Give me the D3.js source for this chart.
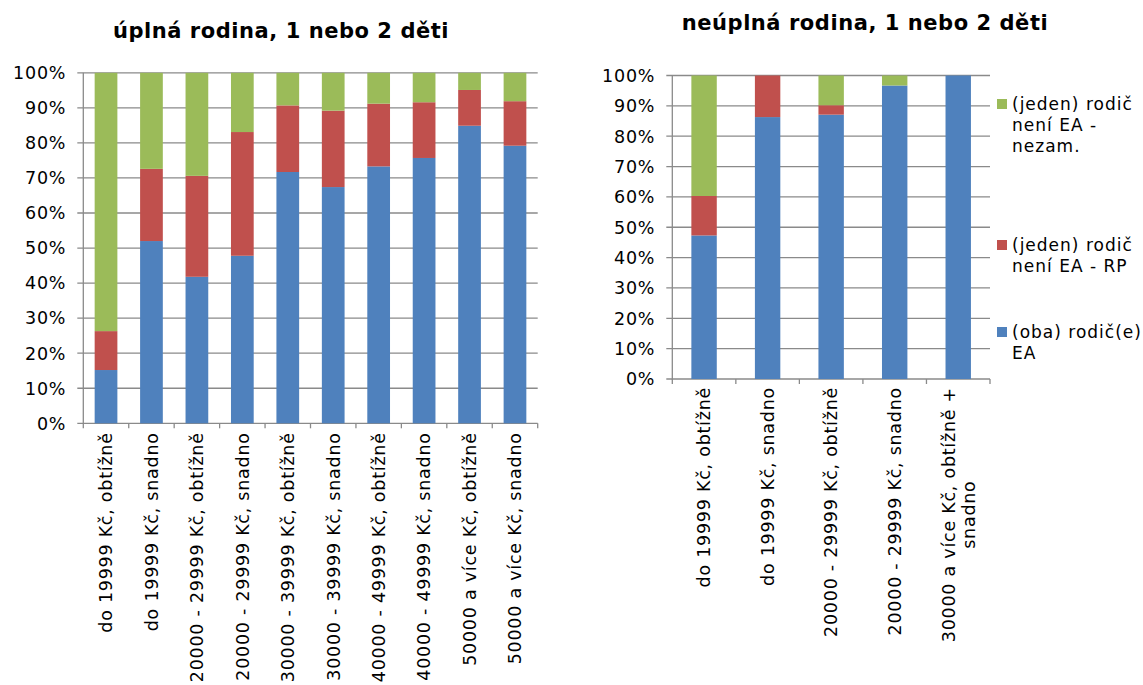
<!DOCTYPE html>
<html>
<head>
<meta charset="utf-8">
<script src="https://cdn.jsdelivr.net/npm/d3@7"></script>
<style>
  body { margin: 0; background: #fff; }
  text { font-family: "DejaVu Sans", Verdana, sans-serif; fill: #000; }
</style>
</head>
<body>
<div id="chart"></div>
<script>
// categories
const leftCats = [
  "do 19999 Kč, obtížně", "do 19999 Kč, snadno",
  "20000 - 29999 Kč, obtížně", "20000 - 29999 Kč, snadno",
  "30000 - 39999 Kč, obtížně", "30000 - 39999 Kč, snadno",
  "40000 - 49999 Kč, obtížně", "40000 - 49999 Kč, snadno",
  "50000 a více Kč, obtížně", "50000 a více Kč, snadno"
];
const rightCats = [
  ["do 19999 Kč, obtížně"], ["do 19999 Kč, snadno"],
  ["20000 - 29999 Kč, obtížně"], ["20000 - 29999 Kč, snadno"],
  ["30000 a více Kč, obtížně +", "snadno"]
];

// series values (%)
const leftEA    = [15.2, 52.0, 41.8, 47.8, 71.7, 67.4, 73.3, 75.7, 84.9, 79.2];
const leftRP    = [11.1, 20.6, 28.8, 35.3, 19.0, 21.8, 17.9, 15.9, 10.2, 12.7];
const leftNezam = [73.7, 27.4, 29.4, 16.9, 9.3, 10.8, 8.8, 8.4, 4.9, 8.1];

const rightEA    = [47.3, 86.3, 87.1, 96.7, 100];
const rightRP    = [13.0, 13.7, 3.1, 0, 0];
const rightNezam = [39.7, 0, 9.8, 3.3, 0];

const seriesKeys = ["ea", "rp", "nezam"];
const seriesColors = { ea: "#4F81BD", rp: "#C0504D", nezam: "#9BBB59" };
const legendLabels = [
  { key: "nezam", lines: ["(jeden) rodič", "není EA -", "nezam."] },
  { key: "rp", lines: ["(jeden) rodič", "není EA - RP"] },
  { key: "ea", lines: ["(oba) rodič(e)", "EA"] }
];
const yTicks = [0, 10, 20, 30, 40, 50, 60, 70, 80, 90, 100];

const svg = d3.select("#chart").append("svg")
  .attr("width", 1143).attr("height", 685);

function drawPanel(opts) {
  const { cats, ea, rp, nezam, left, right, top, bottom, pad, title, titleX, titleY, labelGap } = opts;
  const rows = cats.map((c, i) => ({ cat: i, ea: ea[i], rp: rp[i], nezam: nezam[i] }));
  const stacked = d3.stack().keys(seriesKeys)(rows);

  const x = d3.scaleBand().domain(d3.range(cats.length)).range([left, right]).paddingInner(pad).paddingOuter(pad / 2);
  const xb = d3.scaleBand().domain(d3.range(cats.length)).range([left, right]);
  const y = d3.scaleLinear().domain([0, 100]).range([bottom, top]);

  const g = svg.append("g");

  // gridlines (with small outward ticks)
  g.selectAll("line.grid").data(yTicks).enter().append("line")
    .attr("x1", left - 6).attr("x2", right)
    .attr("y1", d => y(d)).attr("y2", d => y(d))
    .attr("stroke", "#8a8a8a").attr("stroke-width", 1.3);

  // y axis line
  g.append("line").attr("x1", left).attr("x2", left).attr("y1", top).attr("y2", bottom + 0.5)
    .attr("stroke", "#8a8a8a").attr("stroke-width", 1.3);

  // x ticks at category boundaries
  const bounds = d3.range(cats.length + 1).map(i => i === cats.length ? right : xb(i));
  g.selectAll("line.xt").data(bounds).enter().append("line")
    .attr("x1", d => d).attr("x2", d => d)
    .attr("y1", bottom).attr("y2", bottom + 5)
    .attr("stroke", "#8a8a8a").attr("stroke-width", 1.3);

  // y labels
  g.selectAll("text.yl").data(yTicks).enter().append("text")
    .attr("x", left - 17).attr("y", d => y(d)).attr("dy", "0.36em")
    .attr("text-anchor", "end").style("font-size", "17.5px").style("letter-spacing", "0.8px")
    .text(d => d + "%");

  // bars
  stacked.forEach(s => {
    g.selectAll(null).data(s).enter().append("rect")
      .attr("x", d => x(d.data.cat))
      .attr("width", x.bandwidth())
      .attr("y", d => y(d[1]))
      .attr("height", d => y(d[0]) - y(d[1]))
      .attr("fill", seriesColors[s.key]);
  });

  // x labels (rotated, centered block of lines)
  cats.forEach((c, i) => {
    const lines = Array.isArray(c) ? c : [c];
    const lh = 20;
    const cx = xb(i) + xb.bandwidth() / 2;
    const lg = g.append("g");
    const texts = lines.map((ln, j) => lg.append("text")
      .style("font-size", "17.5px")
      .style("letter-spacing", "0.75px")
      .attr("text-anchor", "middle")
      .attr("dy", "0.36em")
      .text(ln));
    const maxLen = d3.max(texts, t => t.node().getComputedTextLength());
    texts.forEach((t, j) => {
      const off = (j - (lines.length - 1) / 2) * lh;
      t.attr("transform", `translate(${cx + off},${bottom + labelGap + maxLen / 2}) rotate(-90)`);
    });
  });

  // title
  svg.append("text").attr("x", titleX).attr("y", titleY)
    .attr("text-anchor", "middle").style("font-size", "21px").style("font-weight", "bold")
    .style("letter-spacing", "0.55px")
    .text(title);
}

drawPanel({
  cats: leftCats, ea: leftEA, rp: leftRP, nezam: leftNezam,
  left: 83.3, right: 537.7, top: 72.8, bottom: 423.3, pad: 0.5,
  title: "úplná rodina, 1 nebo 2 děti", titleX: 281, titleY: 38, labelGap: 9
});
drawPanel({
  cats: rightCats, ea: rightEA, rp: rightRP, nezam: rightNezam,
  left: 672.3, right: 990, top: 75.5, bottom: 379, pad: 0.6,
  title: "neúplná rodina, 1 nebo 2 děti", titleX: 865, titleY: 30, labelGap: 8
});

// legend
const legendY = [104, 245, 332];
const legend = svg.append("g");
legendLabels.forEach((l, i) => {
  const ly = legendY[i];
  legend.append("rect").attr("x", 997).attr("y", ly - 5).attr("width", 10).attr("height", 10)
    .attr("fill", seriesColors[l.key]);
  l.lines.forEach((ln, j) => {
    legend.append("text").attr("x", 1012).attr("y", ly + j * 21).attr("dy", "0.36em")
      .style("font-size", "17px").style("letter-spacing", "1px").text(ln);
  });
});
</script>
</body>
</html>
